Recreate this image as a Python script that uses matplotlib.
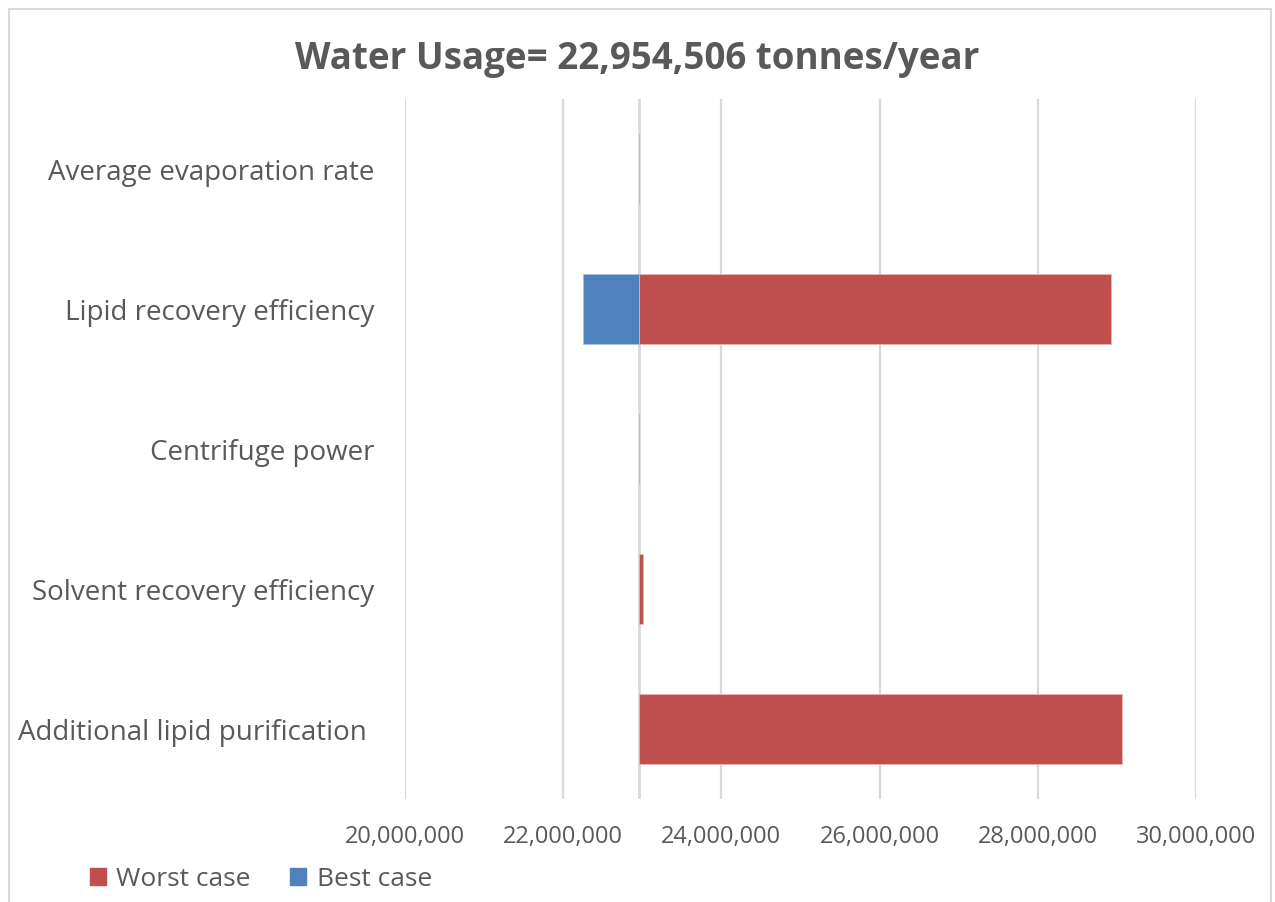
import matplotlib
matplotlib.use("Agg")
import matplotlib.pyplot as plt
from matplotlib.patches import Rectangle, Patch
from matplotlib.ticker import FuncFormatter

plt.rcParams['font.family'] = ['Open Sans', 'DejaVu Sans']

title = "Water Usage= 22,954,506 tonnes/year"
categories = ["Average evaporation rate", "Lipid recovery efficiency", "Centrifuge power",
              "Solvent recovery efficiency", "Additional lipid purification "]
base_value = 22954506
worst_case = [22954506, 28925000, 22954506, 23010000, 29065000]
best_case = [22954506, 22250000, 22954506, 22954506, 22954506]
xticks = [20000000, 22000000, 24000000, 26000000, 28000000, 30000000]

red = "#C0504D"
blue = "#4F81BD"
grid_c = "#D9D9D9"
text_c = "#595959"

fig = plt.figure(figsize=(12.75, 9.03), dpi=100)
ax = fig.add_axes([405/1275, 1-800/903, (1196-405)/1275, 700/903])

ypos = list(range(len(categories)))
ax.barh(ypos, [w - base_value for w in worst_case], left=base_value, height=0.5,
        color=red, edgecolor="#E8B5B4", linewidth=0.6, label="Worst case", zorder=3)
ax.barh(ypos, [b - base_value for b in best_case], left=base_value, height=0.5,
        color=blue, edgecolor="#A9C0DE", linewidth=0.6, label="Best case", zorder=3)

ax.axvline(base_value, color=grid_c, lw=2, zorder=2)
ax.set_xlim(xticks[0], xticks[-1])
ax.set_ylim(len(categories) - 0.5, -0.5)
ax.set_xticks(xticks)
ax.xaxis.set_major_formatter(FuncFormatter(lambda v, p: f"{int(v):,}"))
ax.set_yticks(ypos)
ax.set_yticklabels(categories)
ax.tick_params(axis='both', length=0, colors=text_c)
ax.tick_params(axis='x', labelsize=17, pad=18)
ax.tick_params(axis='y', labelsize=20, pad=22)
ax.grid(axis='x', color=grid_c, lw=1.6, zorder=0)
ax.set_axisbelow(True)
for s in ax.spines.values():
    s.set_visible(False)

fig.text(0.5, 1-59/903, title, ha='center', va='center', fontsize=26.5,
         fontweight='bold', color=text_c)

handles = [Patch(color=red), Patch(color=blue)]
fig.legend(handles, ["Worst case", "Best case"], loc='center left',
           bbox_to_anchor=(66/1275, 1-880/903), ncol=2, frameon=False,
           fontsize=19, handlelength=0.6, handleheight=0.6, handletextpad=0.4,
           columnspacing=1.5, labelcolor=text_c)

fig.patches.append(Rectangle((9/1275, -0.05), (1271-9)/1275, 1.05 - 10/903,
                             transform=fig.transFigure, fill=False,
                             edgecolor=grid_c, lw=1.5))

fig.savefig("out.png", dpi=100)
